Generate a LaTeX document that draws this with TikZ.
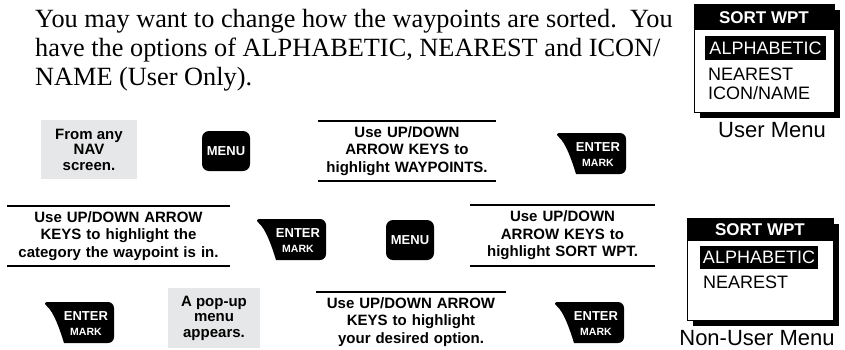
\documentclass[tikz,border=0pt]{standalone}
\usepackage{fontspec}
\setmainfont{Liberation Serif}
\newfontfamily\hv{Liberation Sans}
\usetikzlibrary{calc}
\definecolor{keygray}{RGB}{230,231,232}
\tikzset{
  rule/.style={line width=1.8pt},
  stepnote/.style={align=center, inner sep=0pt, minimum height=60pt,
    font={\hv\bfseries\fontsize{15}{17.5}\selectfont}},
  graynote/.style={fill=keygray, align=center, inner sep=0pt,
    font={\hv\bfseries\fontsize{15}{15.5}\selectfont}},
  menukey/.style={fill=black, rounded corners=7pt, minimum width=48pt,
    minimum height=40pt, inner sep=0pt, text=white,
    font={\hv\bfseries\fontsize{13}{13}\selectfont}},
  enterkey/.style={minimum height=41pt, inner xsep=6pt, inner ysep=0pt,
    text width=60pt, align=right, text=white,
    font={\hv\bfseries\fontsize{13}{13}\selectfont},
    path picture={
      \fill[rounded corners=6pt]
        ($(path picture bounding box.south west)+(22,0)$)
        -- (path picture bounding box.south east)
        -- (path picture bounding box.north east)
        -- (path picture bounding box.north west) [sharp corners]
        .. controls ($(path picture bounding box.north west)+(12,10)$)
        and ($(path picture bounding box.south west)+(18,-13)$) .. cycle;
    }},
  menutitle/.style={text=white, inner sep=0pt,
    font={\hv\bfseries\fontsize{17}{17}\selectfont}},
  menuhl/.style={fill=black, text=white, inner sep=0pt,
    font={\hv\fontsize{18}{18}\selectfont}},
  menuitem/.style={inner sep=0pt, font={\hv\fontsize{18}{18}\selectfont}},
  caption/.style={inner sep=0pt, font={\hv\fontsize{22}{22}\selectfont}},
  para/.style={inner sep=0pt, align=left, font={\fontsize{26.3}{29}\selectfont}}
}
\newcommand{\EnterText}{\begin{tabular}{@{}c@{}}\rule{0pt}{15pt}ENTER\\[2.5pt]{\fontsize{10.5}{10.5}\selectfont MARK}\end{tabular}}
\begin{document}
\begin{tikzpicture}[x=1pt,y=-1pt]
\useasboundingbox (0,0) rectangle (845,349);

% intro paragraph
\node[para, anchor=north west] (intro) at (35,9)
  {You may want to change how the waypoints are sorted.\ \ You\\
   have the options of ALPHABETIC, NEAREST and ICON/\\
   NAME (User Only).};

% ---------- user menu ----------
\fill (700,10) rectangle (840,118);
\draw[fill=white, line width=1pt] (694,4) rectangle (834,112);
\fill (694,4) rectangle (834,30);
\node[menutitle] (umtitle) at (764,17.5) {SORT WPT};
\node[menuhl, minimum width=121pt, minimum height=24pt] (umalpha) at (765.5,48) {ALPHABETIC};
\node[menuitem, anchor=base west] (umnear) at (708,80) {NEAREST};
\node[menuitem, anchor=base west] (umicon) at (708,99) {ICON/NAME};
\node[caption] (umcap) at (772,130) {User Menu};

% ---------- non-user menu ----------
\fill (693,224) rectangle (839,326);
\draw[fill=white, line width=1pt] (687,218) rectangle (833,320);
\fill (687,218) rectangle (833,241);
\node[menutitle] (nmtitle) at (760,229.5) {SORT WPT};
\node[menuhl, minimum width=118pt, minimum height=23pt] (nmalpha) at (759,257) {ALPHABETIC};
\node[menuitem, anchor=base west] (nmnear) at (703,288) {NEAREST};
\node[caption] (nmcap) at (757,338) {Non-User Menu};

% ---------- row 1 ----------
\node[graynote, minimum width=96pt, minimum height=59pt] (nav) at (89,149.5)
  {From any\\NAV\\screen.};
\node[menukey] (menu1) at (226,151) {MENU};
\node[stepnote, text width=178pt] (t1) at (407,151)
  {Use UP/DOWN\\ARROW KEYS to\\highlight WAYPOINTS.};
\draw[rule] (t1.north west) -- (t1.north east);
\draw[rule] (t1.south west) -- (t1.south east);
\node[enterkey] (enter1) at (590,153.5) {\EnterText};

% ---------- row 2 ----------
\node[stepnote, text width=223pt] (t2) at (118.5,236)
  {Use UP/DOWN ARROW\\KEYS to highlight the\\category the waypoint is in.};
\draw[rule] (t2.north west) -- (t2.north east);
\draw[rule] (t2.south west) -- (t2.south east);
\node[enterkey] (enter2) at (290,239.5) {\EnterText};
\node[menukey] (menu2) at (410,240) {MENU};
\node[stepnote, text width=185pt] (t3) at (562.5,235.5)
  {Use UP/DOWN\\ARROW KEYS to\\highlight SORT WPT.};
\draw[rule] (t3.north west) -- (t3.north east);
\draw[rule] (t3.south west) -- (t3.south east);

% ---------- row 3 ----------
\node[enterkey] (enter3) at (78,322.5) {\EnterText};
\node[graynote, minimum width=92pt, minimum height=60pt] (popup) at (214,318)
  {A pop-up\\menu\\appears.};
\node[stepnote, text width=190pt] (t4) at (411,322)
  {Use UP/DOWN ARROW\\KEYS to highlight\\your desired option.};
\draw[rule] (t4.north west) -- (t4.north east);
\node[enterkey] (enter4) at (588,322.5) {\EnterText};
\end{tikzpicture}
\end{document}
